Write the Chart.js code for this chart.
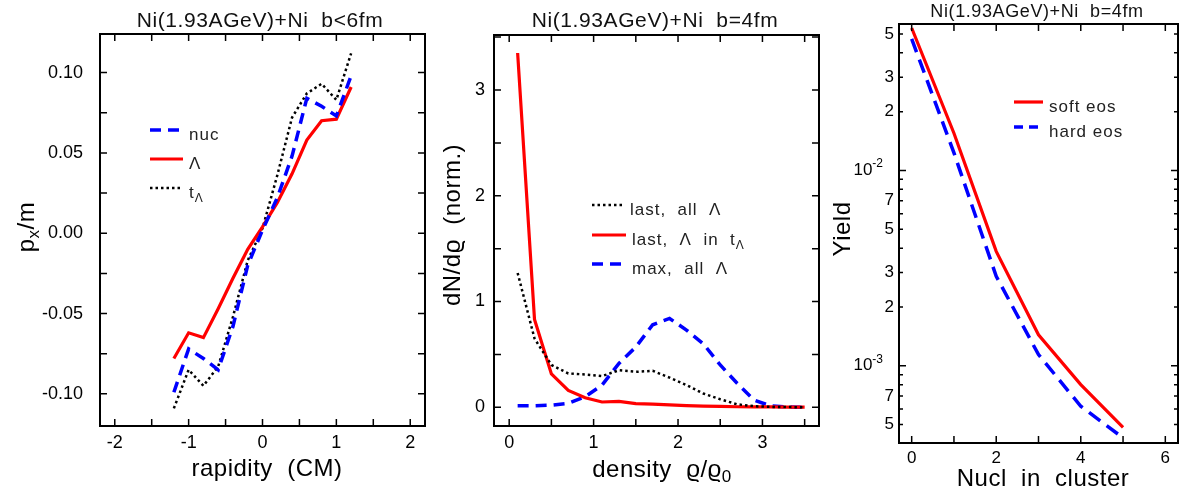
<!DOCTYPE html>
<html>
<head>
<meta charset="utf-8">
<script src="https://cdn.jsdelivr.net/npm/chart.js@4.4.0/dist/chart.umd.min.js"></script>
<style>
    html, body { margin: 0; padding: 0; background: #fff; }
    #wrap { position: relative; width: 1182px; height: 491px; overflow: hidden; }
    #wrap canvas { position: absolute; left: 0; top: 0; }
</style>
</head>
<body>
<div id="wrap">
    <canvas id="flow-chart" width="1182" height="491"></canvas>
    <canvas id="density-chart" width="1182" height="491"></canvas>
    <canvas id="yield-chart" width="1182" height="491"></canvas>
</div>
<script>
// panel 1: px/m vs rapidity
const rapidity = [-1.2, -1.0, -0.8, -0.6, -0.4, -0.2, 0, 0.2, 0.4, 0.6, 0.8, 1.0, 1.2];
const pxNuc = [-0.099, -0.072, -0.078, -0.085, -0.058, -0.020, 0.002, 0.022, 0.048, 0.084, 0.079, 0.073, 0.098];
const pxLambda = [-0.078, -0.062, -0.065, -0.047, -0.028, -0.010, 0.004, 0.019, 0.037, 0.058, 0.070, 0.071, 0.091];
const pxTLambda = [-0.109, -0.085, -0.095, -0.083, -0.052, -0.017, 0.003, 0.036, 0.072, 0.087, 0.093, 0.083, 0.112];

// panel 2: dN/drho vs density
const density = [0.1, 0.3, 0.5, 0.7, 0.9, 1.1, 1.3, 1.5, 1.7, 1.9, 2.1, 2.3, 2.5, 2.7, 2.9, 3.1, 3.3, 3.5];
const lastAll = [1.27, 0.65, 0.40, 0.32, 0.31, 0.295, 0.35, 0.335, 0.345, 0.28, 0.21, 0.13, 0.076, 0.028, 0.010, 0.004, 0.002, 0];
const lastInT = [3.35, 0.83, 0.315, 0.16, 0.09, 0.05, 0.055, 0.035, 0.029, 0.022, 0.016, 0.011, 0.008, 0.005, 0.004, 0.003, 0.002, 0.001];
const maxAll = [0.015, 0.015, 0.02, 0.037, 0.10, 0.21, 0.415, 0.57, 0.78, 0.84, 0.73, 0.60, 0.40, 0.227, 0.069, 0.012, 0.002, 0];

// panel 3: yield vs nucleons in cluster
const nucl = [0, 1, 2, 3, 4, 5];
const yieldSoft = [0.0536, 0.0155, 0.00385, 0.00144, 0.00080, 0.000483];
const yieldHard = [0.0471, 0.0123, 0.00287, 0.00114, 0.00062, 0.000427];

// tick values and labels
const p1XTicks = [-2, -1, 0, 1, 2];
const p1XMinor = [-1.5, -0.5, 0.5, 1.5];
const p1YTicks = [-0.1, -0.05, 0, 0.05, 0.1];
const p1YLabels = ['-0.10', '-0.05', '0.00', '0.05', '0.10'];
const p1YMinor = [-0.075, -0.025, 0.025, 0.075];

const p2XTicks = [0, 1, 2, 3];
const p2XMinor = [0.5, 1.5, 2.5, 3.5];
const p2YTicks = [0, 1, 2, 3];
const p2YMinor = [0.5, 1.5, 2.5, 3.5];

const p3XTicks = [0, 2, 4, 6];
const p3XMinor = [1, 3, 5];
const p3YTicks = [0.05, 0.03, 0.02, 0.01, 0.007, 0.005, 0.003, 0.002, 0.001, 0.0007, 0.0005];
const p3YLabels = ['5', '3', '2', '10^{-2}', '7', '5', '3', '2', '10^{-3}', '7', '5'];
const p3YMinor = [0.04, 0.009, 0.008, 0.006, 0.004, 0.0009, 0.0008, 0.0006];

const FONT = '"Liberation Sans", Arial, sans-serif';

function pairs(xs, ys) {
    return xs.map((x, i) => ({ x: x, y: ys[i] }));
}

function lineSet(label, xs, ys, color, dash, width) {
    return {
        label: label,
        data: pairs(xs, ys),
        borderColor: color,
        borderWidth: width,
        borderDash: dash,
        pointRadius: 0,
        fill: false,
        tension: 0
    };
}

// split 'p_{x}/m' or '10^{-2}' into pieces
function pieces(str) {
    const out = [];
    const re = /([_^])\{([^}]*)\}|([^_^]+)/g;
    let m;
    while ((m = re.exec(str)) !== null) {
        if (m[3]) out.push({ t: m[3], k: 0 });
        else out.push({ t: m[2], k: m[1] === '_' ? 1 : -1 });
    }
    return out;
}

function drawRich(ctx, str, x, y, size, align, color, spacing) {
    const segs = pieces(str);
    ctx.save();
    ctx.fillStyle = color || '#000';
    ctx.textBaseline = 'middle';
    ctx.textAlign = 'left';
    if ('letterSpacing' in ctx) ctx.letterSpacing = (spacing || 0) + 'px';
    let w = 0;
    segs.forEach(s => {
        s.size = s.k ? Math.round(size * 0.72) : size;
        ctx.font = s.size + 'px ' + FONT;
        s.w = ctx.measureText(s.t).width;
        w += s.w;
    });
    let cx = align === 'center' ? x - w / 2 : (align === 'right' ? x - w : x);
    segs.forEach(s => {
        ctx.font = s.size + 'px ' + FONT;
        const dy = s.k === 1 ? size * 0.32 : (s.k === -1 ? -size * 0.38 : 0);
        ctx.fillText(s.t, cx, y + dy);
        cx += s.w;
    });
    ctx.restore();
}

// frame, inward ticks, labels, titles and legend for one panel
const framePlugin = {
    id: 'frameTicks',
    afterDatasetsDraw(chart, args, o) {
        const ctx = chart.ctx;
        const { left, right, top, bottom } = chart.chartArea;
        const xs = chart.scales.x;
        const ys = chart.scales.y;

        ctx.save();
        ctx.strokeStyle = '#000';
        ctx.lineWidth = 2;
        ctx.strokeRect(left, top, right - left, bottom - top);

        ctx.lineWidth = 1.5;
        ctx.beginPath();
        const xTick = (v, len) => {
            const px = xs.getPixelForValue(v);
            ctx.moveTo(px, bottom); ctx.lineTo(px, bottom - len);
            ctx.moveTo(px, top); ctx.lineTo(px, top + len);
        };
        const yTick = (v, len) => {
            const py = ys.getPixelForValue(v);
            ctx.moveTo(left, py); ctx.lineTo(left + len, py);
            ctx.moveTo(right, py); ctx.lineTo(right - len, py);
        };
        o.xTicks.forEach(v => xTick(v, o.majorLen));
        o.xMinor.forEach(v => xTick(v, o.xMinorLen));
        o.yTicks.forEach((v, i) => {
            const decade = o.yLabels[i].indexOf('^') >= 0;
            yTick(v, decade || !o.logY ? o.majorLen : o.yLabelLen);
        });
        o.yMinor.forEach(v => yTick(v, o.yMinorLen));
        ctx.stroke();
        ctx.restore();

        o.xTicks.forEach((v, i) => {
            drawRich(ctx, o.xLabels[i], xs.getPixelForValue(v), bottom + o.xLabelGap, o.tickSize, 'center', '#000', 0);
        });
        o.yTicks.forEach((v, i) => {
            const shift = o.yLabels[i].indexOf('^') >= 0 ? o.decadeShift || 0 : 0;
            drawRich(ctx, o.yLabels[i], left - o.yLabelGap - shift, ys.getPixelForValue(v), o.tickSize, 'right', '#000', 0);
        });

        // titles
        drawRich(ctx, o.title, o.titleX, o.titleY, o.titleSize, 'center', '#111', o.titleSpacing);
        drawRich(ctx, o.xTitle, o.xTitleX, o.xTitleY, o.axisSize, 'center', '#000', o.axisSpacing);
        ctx.save();
        ctx.translate(o.yTitleX, o.yTitleY);
        ctx.rotate(-Math.PI / 2);
        drawRich(ctx, o.yTitle, 0, 0, o.axisSize, 'center', '#000', o.axisSpacing);
        ctx.restore();

        // legend
        o.legend.forEach(item => {
            const ds = chart.data.datasets[item.ds];
            ctx.save();
            ctx.strokeStyle = ds.borderColor;
            ctx.lineWidth = ds.borderWidth;
            ctx.setLineDash(item.dash || ds.borderDash || []);
            ctx.beginPath();
            ctx.moveTo(item.x, item.y);
            ctx.lineTo(item.x + item.w, item.y);
            ctx.stroke();
            ctx.restore();
            drawRich(ctx, item.text, item.x + item.w + 6, item.y + 5, o.legendSize, 'left', '#222', 1);
        });
    }
};

function makePanel(id, padding, scales, datasets, frame) {
    return new Chart(document.getElementById(id), {
        type: 'line',
        data: { datasets: datasets },
        options: {
            responsive: false,
            animation: false,
            devicePixelRatio: 1,
            layout: { padding: padding },
            plugins: {
                legend: { display: false },
                tooltip: { enabled: false },
                frameTicks: frame
            },
            scales: scales
        },
        plugins: [framePlugin]
    });
}

// panel 1
makePanel('flow-chart',
    { left: 100, top: 34, right: 1182 - 425, bottom: 491 - 426 },
    {
        x: { type: 'linear', min: -2.2, max: 2.2, display: false },
        y: { type: 'linear', min: -0.12, max: 0.124, display: false }
    },
    [
        lineSet('nuc', rapidity, pxNuc, '#0000ff', [11, 7], 3.5),
        lineSet('Λ', rapidity, pxLambda, '#ff0000', [], 3.2),
        lineSet('tΛ', rapidity, pxTLambda, '#000000', [2.5, 3], 2.5)
    ],
    {
        xTicks: p1XTicks, xLabels: p1XTicks.map(String), xMinor: p1XMinor,
        yTicks: p1YTicks, yLabels: p1YLabels, yMinor: p1YMinor,
        majorLen: 7, xMinorLen: 7, yMinorLen: 7, tickSize: 18,
        xLabelGap: 17, yLabelGap: 17,
        title: 'Ni(1.93AGeV)+Ni  b<6fm', titleX: 260, titleY: 21, titleSize: 21, titleSpacing: 0.6,
        xTitle: 'rapidity  (CM)', xTitleX: 267, xTitleY: 469,
        yTitle: 'p_{x}/m', yTitleX: 27, yTitleY: 227, axisSize: 24, axisSpacing: 0.5,
        legendSize: 17,
        legend: [
            { ds: 0, text: 'nuc', x: 150, y: 130, w: 33 },
            { ds: 1, text: 'Λ', x: 150, y: 159, w: 33 },
            { ds: 2, text: 't_{Λ}', x: 150, y: 188, w: 33 }
        ]
    }
);

// panel 2
makePanel('density-chart',
    { left: 494, top: 35, right: 1182 - 819, bottom: 491 - 426 },
    {
        x: { type: 'linear', min: -0.18, max: 3.67, display: false },
        y: { type: 'linear', min: -0.177, max: 3.52, display: false }
    },
    [
        lineSet('last, all Λ', density, lastAll, '#000000', [2.5, 3], 2.5),
        lineSet('last, Λ in tΛ', density, lastInT, '#ff0000', [], 3.2),
        lineSet('max, all Λ', density, maxAll, '#0000ff', [11, 7], 3.5)
    ],
    {
        xTicks: p2XTicks, xLabels: p2XTicks.map(String), xMinor: p2XMinor,
        yTicks: p2YTicks, yLabels: p2YTicks.map(String), yMinor: p2YMinor,
        majorLen: 7, xMinorLen: 7, yMinorLen: 7, tickSize: 18,
        xLabelGap: 17, yLabelGap: 9,
        title: 'Ni(1.93AGeV)+Ni  b=4fm', titleX: 655, titleY: 21, titleSize: 21, titleSpacing: 0.6,
        xTitle: 'density  ϱ/ϱ_{0}', xTitleX: 662, xTitleY: 470,
        yTitle: 'dN/dϱ  (norm.)', yTitleX: 453, yTitleY: 225, axisSize: 24, axisSpacing: 0.5,
        legendSize: 17,
        legend: [
            { ds: 0, text: 'last,  all  Λ', x: 592, y: 205, w: 32 },
            { ds: 1, text: 'last,  Λ  in  t_{Λ}', x: 592, y: 235, w: 34 },
            { ds: 2, text: 'max,  all  Λ', x: 592, y: 264, w: 34 }
        ]
    }
);

// panel 3
makePanel('yield-chart',
    { left: 899, top: 24, right: 1182 - 1178, bottom: 491 - 443 },
    {
        x: { type: 'linear', min: -0.3, max: 6.3, display: false },
        y: { type: 'logarithmic', min: 0.000402, max: 0.0562, display: false }
    },
    [
        lineSet('soft eos', nucl, yieldSoft, '#ff0000', [], 3.2),
        lineSet('hard eos', nucl, yieldHard, '#0000ff', [14, 8], 3.5)
    ],
    {
        xTicks: p3XTicks, xLabels: p3XTicks.map(String), xMinor: p3XMinor,
        yTicks: p3YTicks, yLabels: p3YLabels, yMinor: p3YMinor, logY: true,
        majorLen: 7, xMinorLen: 7, yLabelLen: 4, yMinorLen: 4, tickSize: 17,
        xLabelGap: 15, yLabelGap: 5, decadeShift: 11,
        title: 'Ni(1.93AGeV)+Ni  b=4fm', titleX: 1037, titleY: 12, titleSize: 18, titleSpacing: 0.6,
        xTitle: 'Nucl  in  cluster', xTitleX: 1043, xTitleY: 479,
        yTitle: 'Yield', yTitleX: 843, yTitleY: 229, axisSize: 24, axisSpacing: 0.5,
        legendSize: 17,
        legend: [
            { ds: 0, text: 'soft eos', x: 1014, y: 102, w: 29 },
            { ds: 1, text: 'hard eos', x: 1014, y: 127, w: 29, dash: [9, 6] }
        ]
    }
);
</script>
</body>
</html>
